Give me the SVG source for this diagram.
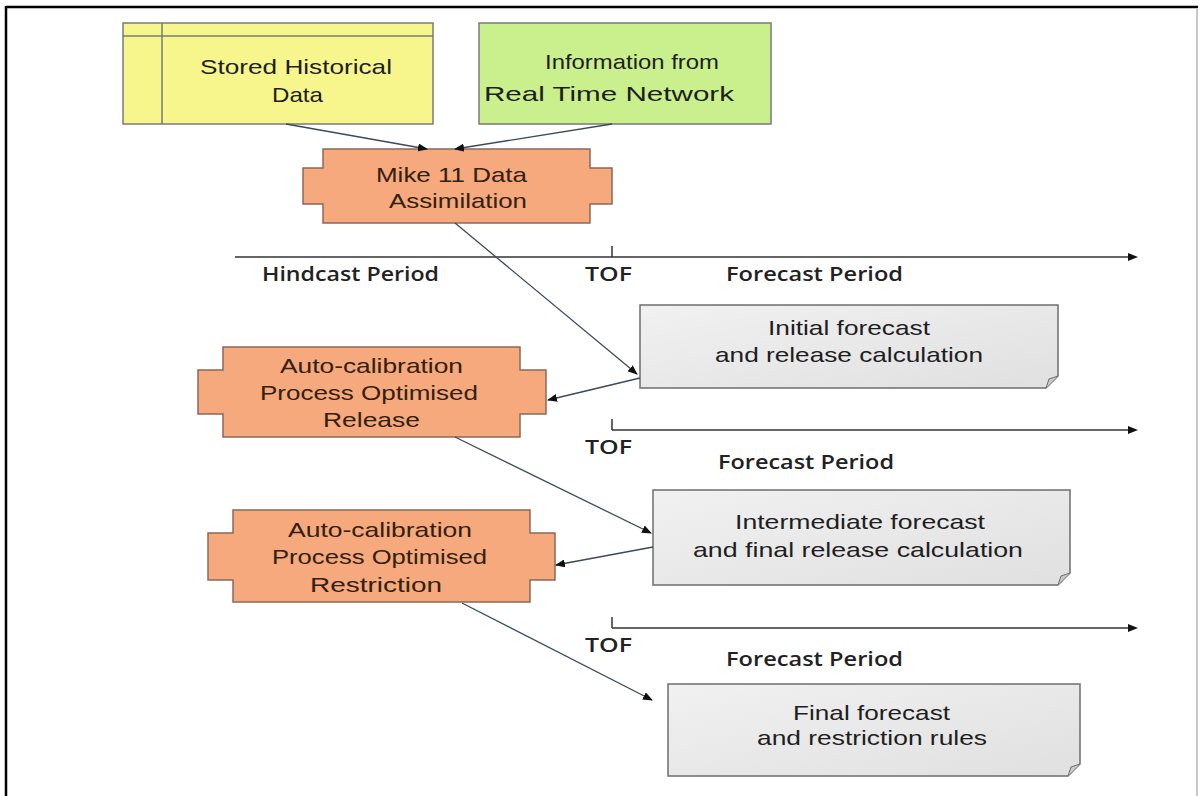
<svg xmlns="http://www.w3.org/2000/svg" width="1200" height="796" viewBox="0 0 1200 796">
<defs>
<style>
.t{font-family:"Liberation Sans",Arial,sans-serif;font-size:21px;fill:#1e1e1e}
.to{font-family:"Liberation Sans",Arial,sans-serif;font-size:21px;fill:#33200f}
.lab{font-family:"Open Sans","DejaVu Sans",sans-serif;font-size:19px;font-weight:600;fill:#222}
.box{stroke:#7a7a7a;stroke-width:1.5}
.node{fill:#f5a97c;stroke:#8a6a58;stroke-width:1.5}
.gray{fill:url(#gg);stroke:#6e6e6e;stroke-width:1.5}
.con{stroke:#3a4a5a;stroke-width:1.3;fill:none;marker-end:url(#ah)}
.tl{stroke:#333;stroke-width:1.5;fill:none}
</style>
<linearGradient id="gg" x1="0" y1="0" x2="1" y2="1">
<stop offset="0" stop-color="#f1f1f1"/>
<stop offset="1" stop-color="#e0e0e0"/>
</linearGradient>
<marker id="ah" markerWidth="10" markerHeight="8" refX="9" refY="4" orient="auto" markerUnits="userSpaceOnUse">
<path d="M0,0 L10,4 L0,8 Z" fill="#111"/>
</marker>
</defs>
<rect width="1200" height="796" fill="#ffffff"/>
<g id="frame">
<line x1="6" y1="7" x2="1198" y2="7" stroke="#000" stroke-width="2.5"/>
<line x1="6" y1="6" x2="6" y2="796" stroke="#000" stroke-width="2.5"/>
<line x1="1197" y1="8" x2="1197" y2="796" stroke="#c8c8c8" stroke-width="2"/>
</g>
<g id="stored">
<rect class="box" x="123" y="23" width="310" height="101" fill="#f7f68c"/>
<line x1="123" y1="36" x2="433" y2="36" stroke="#7a7a7a" stroke-width="1.5"/>
<line x1="162" y1="23" x2="162" y2="124" stroke="#7a7a7a" stroke-width="1.5"/>
<text class="t" x="200" y="74" textLength="192" lengthAdjust="spacingAndGlyphs">Stored Historical</text>
<text class="t" x="272" y="102" textLength="51" lengthAdjust="spacingAndGlyphs">Data</text>
</g>
<g id="info">
<rect class="box" x="479" y="23" width="292" height="101" fill="#c9f08c"/>
<text class="t" x="545" y="69" textLength="174" lengthAdjust="spacingAndGlyphs">Information from</text>
<text class="t" x="484" y="101" textLength="250" lengthAdjust="spacingAndGlyphs">Real Time Network</text>
</g>
<g id="mike">
<path class="node" d="M323,149 H590 V168 H612 V204 H590 V223 H323 V204 H303 V168 H323 Z"/>
<text class="to" x="376" y="182" textLength="151" lengthAdjust="spacingAndGlyphs">Mike 11 Data</text>
<text class="to" x="389" y="208" textLength="138" lengthAdjust="spacingAndGlyphs">Assimilation</text>
</g>
<g id="timeline1">
<line class="tl" x1="235" y1="257" x2="1130" y2="257"/>
<path d="M1128,253 L1138,257 L1128,261 Z" fill="#111"/>
<line class="tl" x1="612" y1="246" x2="612" y2="257"/>
<text class="lab" x="262" y="281" textLength="177" lengthAdjust="spacingAndGlyphs">Hindcast Period</text>
<text class="lab" x="585" y="281" textLength="47" lengthAdjust="spacingAndGlyphs">TOF</text>
<text class="lab" x="726" y="281" textLength="177" lengthAdjust="spacingAndGlyphs">Forecast Period</text>
</g>
<g id="initial">
<path class="gray" d="M640,305 H1058 V376 L1046,388 H640 Z"/>
<path d="M1046,388 L1049,379 L1058,376" fill="#c8c8c8" stroke="#6e6e6e" stroke-width="1"/>
<text class="t" x="768" y="335" textLength="162" lengthAdjust="spacingAndGlyphs">Initial forecast</text>
<text class="t" x="715" y="362" textLength="268" lengthAdjust="spacingAndGlyphs">and release calculation</text>
</g>
<g id="release">
<path class="node" d="M223,347 H520 V370 H546 V414 H520 V437 H223 V414 H198 V370 H223 Z"/>
<text class="to" x="280" y="373" textLength="183" lengthAdjust="spacingAndGlyphs">Auto-calibration</text>
<text class="to" x="260" y="400" textLength="218" lengthAdjust="spacingAndGlyphs">Process Optimised</text>
<text class="to" x="323" y="427" textLength="97" lengthAdjust="spacingAndGlyphs">Release</text>
</g>
<g id="timeline2">
<line class="tl" x1="612" y1="430" x2="1130" y2="430"/>
<path d="M1128,426 L1138,430 L1128,434 Z" fill="#111"/>
<line class="tl" x1="612" y1="419" x2="612" y2="430"/>
<text class="lab" x="585" y="454" textLength="47" lengthAdjust="spacingAndGlyphs">TOF</text>
<text class="lab" x="718" y="469" textLength="176" lengthAdjust="spacingAndGlyphs">Forecast Period</text>
</g>
<g id="intermediate">
<path class="gray" d="M653,490 H1070 V573 L1058,585 H653 Z"/>
<path d="M1058,585 L1061,576 L1070,573" fill="#c8c8c8" stroke="#6e6e6e" stroke-width="1"/>
<text class="t" x="735" y="529" textLength="250" lengthAdjust="spacingAndGlyphs">Intermediate forecast</text>
<text class="t" x="693" y="557" textLength="330" lengthAdjust="spacingAndGlyphs">and final release calculation</text>
</g>
<g id="restriction">
<path class="node" d="M233,510 H530 V533 H555 V580 H530 V602 H233 V580 H208 V533 H233 Z"/>
<text class="to" x="288" y="537" textLength="184" lengthAdjust="spacingAndGlyphs">Auto-calibration</text>
<text class="to" x="272" y="564" textLength="215" lengthAdjust="spacingAndGlyphs">Process Optimised</text>
<text class="to" x="310" y="592" textLength="132" lengthAdjust="spacingAndGlyphs">Restriction</text>
</g>
<g id="timeline3">
<line class="tl" x1="612" y1="628" x2="1130" y2="628"/>
<path d="M1128,624 L1138,628 L1128,632 Z" fill="#111"/>
<line class="tl" x1="612" y1="617" x2="612" y2="628"/>
<text class="lab" x="585" y="652" textLength="47" lengthAdjust="spacingAndGlyphs">TOF</text>
<text class="lab" x="726" y="666" textLength="177" lengthAdjust="spacingAndGlyphs">Forecast Period</text>
</g>
<g id="final">
<path class="gray" d="M668,684 H1080 V764 L1068,776 H668 Z"/>
<path d="M1068,776 L1071,767 L1080,764" fill="#c8c8c8" stroke="#6e6e6e" stroke-width="1"/>
<text class="t" x="793" y="720" textLength="157" lengthAdjust="spacingAndGlyphs">Final forecast</text>
<text class="t" x="757" y="745" textLength="230" lengthAdjust="spacingAndGlyphs">and restriction rules</text>
</g>
<g id="connectors">
<line class="con" x1="286" y1="124" x2="427" y2="149"/>
<line class="con" x1="612" y1="124" x2="455" y2="149"/>
<line class="con" x1="455" y1="223" x2="637" y2="374"/>
<line class="con" x1="640" y1="378" x2="548" y2="400"/>
<line class="con" x1="455" y1="437" x2="651" y2="533"/>
<line class="con" x1="653" y1="547" x2="556" y2="565"/>
<line class="con" x1="462" y1="603" x2="652" y2="700"/>
</g>
</svg>
